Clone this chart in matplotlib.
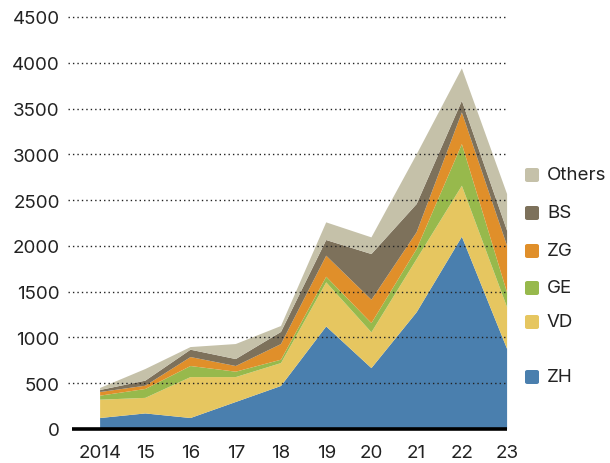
import matplotlib
matplotlib.use("Agg")
import matplotlib.pyplot as plt
from matplotlib.patches import FancyBboxPatch
import numpy as np

years = [2014, 2015, 2016, 2017, 2018, 2019, 2020, 2021, 2022, 2023]
xtick_labels = ["2014", "15", "16", "17", "18", "19", "20", "21", "22", "23"]
ZH = [120, 170, 120, 295, 470, 1120, 665, 1275, 2100, 875]
VD = [200, 170, 447, 272, 250, 482, 391, 581, 557, 455]
GE = [44, 97, 121, 59, 37, 61, 101, 110, 455, 160]
ZG = [40, 36, 98, 62, 171, 230, 255, 184, 346, 510]
BS = [22, 55, 80, 76, 132, 171, 499, 307, 127, 166]
Others = [22, 127, 29, 164, 65, 193, 182, 543, 354, 400]

series_names = ["ZH", "VD", "GE", "ZG", "BS", "Others"]
colors = ["#4a7fae", "#e6c660", "#97b94c", "#e08f2a", "#7d715b", "#c5c1a9"]
yticks = [0, 500, 1000, 1500, 2000, 2500, 3000, 3500, 4000, 4500]

plt.rcParams['font.family'] = ['Inter', 'DejaVu Sans']
FS = 13.5

fig = plt.figure(figsize=(6.10, 4.64), dpi=100)
ax = fig.add_axes([68/610, 1-430/464, (508-68)/610, (430-18)/464])

ax.stackplot(years, ZH, VD, GE, ZG, BS, Others, colors=colors, linewidth=0, zorder=2)

ax.set_xlim(2013.29, 2023.02)
ax.set_ylim(0, 4500)
for y in yticks[1:]:
    ax.axhline(y, color="#222222", linestyle=(0, (1, 2.2)), linewidth=1.0, zorder=3, clip_on=False)
ax.plot([2013.38, 2023.0], [0, 0], color="black", linewidth=2.6, zorder=4, solid_capstyle="butt", clip_on=False)

for s in ax.spines.values():
    s.set_visible(False)
ax.set_yticks(yticks)
ax.set_yticklabels([str(v) for v in yticks], fontsize=FS, color="#222222")
ax.set_xticks(years)
ax.set_xticklabels(xtick_labels, fontsize=FS, color="#222222")
ax.tick_params(axis="both", length=0)
ax.tick_params(axis="y", pad=6)
ax.tick_params(axis="x", pad=11)

# legend
legend_y = {"Others": 176, "BS": 214, "ZG": 252, "GE": 289, "VD": 323, "ZH": 378}
for name, c in zip(series_names, colors):
    yc = legend_y[name]
    sq = 14
    patch = FancyBboxPatch((525/610, 1-(yc+sq/2)/464), sq/610, sq/464,
                           boxstyle="round,pad=0,rounding_size=0.004",
                           transform=fig.transFigure, facecolor=c, edgecolor="none")
    fig.patches.append(patch)
    fig.text(547/610, 1-yc/464, name, fontsize=FS, color="#222222", va="center", ha="left")

fig.savefig("out.png", dpi=100)
